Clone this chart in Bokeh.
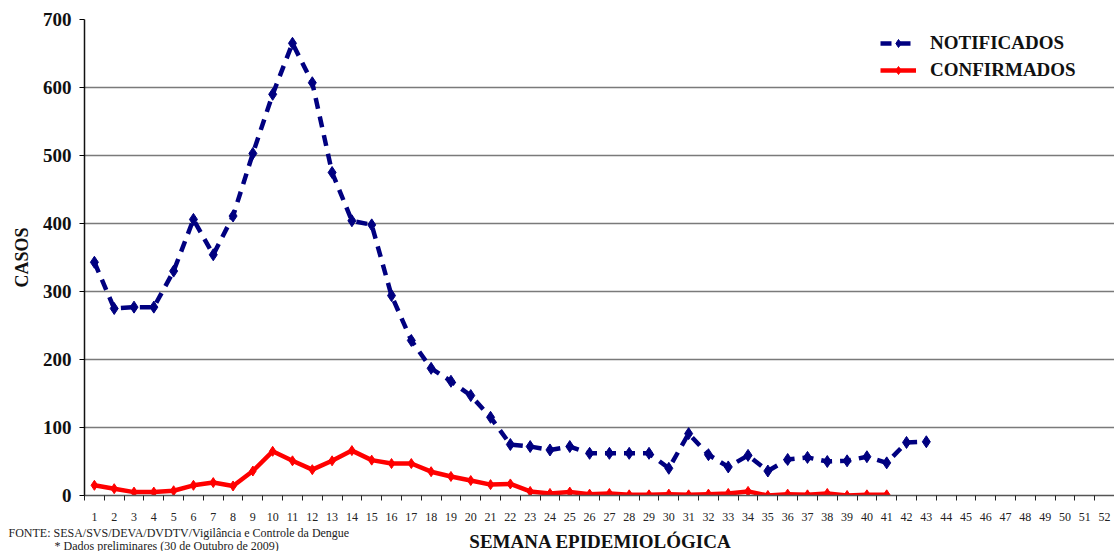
from bokeh.plotting import figure
from bokeh.layouts import column
from bokeh.models import FixedTicker, Legend, LegendItem, Range1d
from bokeh.core.properties import value
from bokeh.embed import file_html
from bokeh.resources import INLINE

semanas = list(range(1, 53))
sem_notif = list(range(1, 44))
notificados = [343, 275, 277, 277, 330, 406, 354, 411, 503, 590,
               665, 607, 475, 404, 398, 294, 228, 187, 168, 147,
               115, 75, 72, 67, 72, 62, 62, 62, 62, 40,
               91, 60, 42, 59, 36, 53, 56, 50, 51, 57,
               48, 78, 79]
sem_conf = list(range(1, 42))
confirmados = [15, 10, 5, 5, 7, 15, 19, 14, 36, 65,
               51, 38, 51, 66, 52, 47, 47, 35, 28, 22,
               16, 17, 6, 3, 5, 2, 3, 1, 1, 2,
               1, 2, 3, 6, 0, 2, 1, 3, 0, 1,
               1]
y_ticks = [0, 100, 200, 300, 400, 500, 600, 700]
tick_labels = {s: str(s) for s in semanas}
x_titulo = "SEMANA EPIDEMIOLÓGICA"
y_titulo = "CASOS"
fonte_txt = "FONTE: SESA/SVS/DEVA/DVDTV/Vigilância e Controle da Dengue"
dados_txt = "*  Dados preliminares (30 de Outubro de 2009)"

SERIF = "Liberation Serif"
W = 1114

p = figure(width=W, height=524, output_backend="svg", toolbar_location=None,
           x_range=Range1d(0.5, 52.5), y_range=Range1d(0, 700),
           min_border_left=84, min_border_right=0, min_border_top=19,
           min_border_bottom=29)
p.frame_align = False
p.outline_line_color = None
p.background_fill_color = "white"

# grid
p.xgrid.grid_line_color = None
p.ygrid.grid_line_color = "#7a7a7a"
p.ygrid.grid_line_width = 1.5

# x axis
p.xaxis.ticker = FixedTicker(ticks=semanas, minor_ticks=[s + 0.5 for s in range(0, 53)])
p.xaxis.major_label_overrides = tick_labels
p.xaxis.major_tick_out = 0
p.xaxis.major_tick_in = 0
p.xaxis.minor_tick_out = 5
p.xaxis.minor_tick_in = 0
p.xaxis.minor_tick_line_color = "#222222"
p.xaxis.axis_line_color = "#555555"
p.xaxis.axis_line_width = 1.5
p.xaxis.major_label_text_font = SERIF
p.xaxis.major_label_text_font_size = "12px"
p.xaxis.major_label_text_color = "#222222"
p.xaxis.major_label_standoff = 12

# y axis
p.yaxis.ticker = FixedTicker(ticks=y_ticks, minor_ticks=[])
p.yaxis.major_tick_out = 5
p.yaxis.major_tick_in = 0
p.yaxis.axis_line_color = "#111111"
p.yaxis.axis_line_width = 1.5
p.yaxis.major_label_text_font = SERIF
p.yaxis.major_label_text_font_style = "bold"
p.yaxis.major_label_text_font_size = "19px"
p.yaxis.major_label_text_color = "#111111"
p.yaxis.major_label_standoff = 8
p.yaxis.axis_label = y_titulo
p.yaxis.axis_label_text_font = SERIF
p.yaxis.axis_label_text_font_style = "bold"
p.yaxis.axis_label_text_font_size = "18px"
p.yaxis.axis_label_text_color = "#111111"
p.yaxis.axis_label_standoff = 8

# series
l1 = p.line(sem_notif, notificados, line_color="#000080", line_width=4.5,
            line_dash="11 8")
m1 = p.scatter(sem_notif, notificados, marker="diamond", size=12,
               fill_color="#000080", line_color="#000080")
l2 = p.line(sem_conf, confirmados, line_color="#ff0000", line_width=4.5)
m2 = p.scatter(sem_conf, confirmados, marker="diamond", size=10,
               fill_color="#ff0000", line_color="#ff0000")

legend = Legend(items=[LegendItem(label="NOTIFICADOS", renderers=[l1, m1]),
                       LegendItem(label="CONFIRMADOS", renderers=[l2, m2])],
                location=(796, 414))
legend.background_fill_alpha = 0
legend.border_line_color = None
legend.label_text_font = SERIF
legend.label_text_font_style = "bold"
legend.label_text_font_size = "19px"
legend.label_text_color = "#111111"
legend.glyph_width = 36
legend.label_standoff = 14
legend.spacing = 5
p.add_layout(legend, "center")

# footer strip with source notes and x-axis title
f = figure(width=W, height=27, output_backend="svg", toolbar_location=None,
           x_range=Range1d(0, W), y_range=Range1d(27, 0),
           x_axis_location=None, y_axis_location=None,
           min_border=0)
f.frame_align = False
f.outline_line_color = None
f.xgrid.grid_line_color = None
f.ygrid.grid_line_color = None
f.text(x=[8], y=[8], text=[fonte_txt], text_font=value(SERIF),
       text_font_size="12px", text_color="#222222", text_baseline="middle")
f.text(x=[54], y=[21], text=[dados_txt], text_font=value(SERIF),
       text_font_size="12px", text_color="#222222", text_baseline="middle")
f.text(x=[600], y=[17], text=[x_titulo], text_font=value(SERIF),
       text_font_size="19px", text_font_style="bold", text_color="#111111",
       text_baseline="middle", text_align="center")

open("out.html", "w").write(file_html(column(p, f, spacing=0), INLINE))
